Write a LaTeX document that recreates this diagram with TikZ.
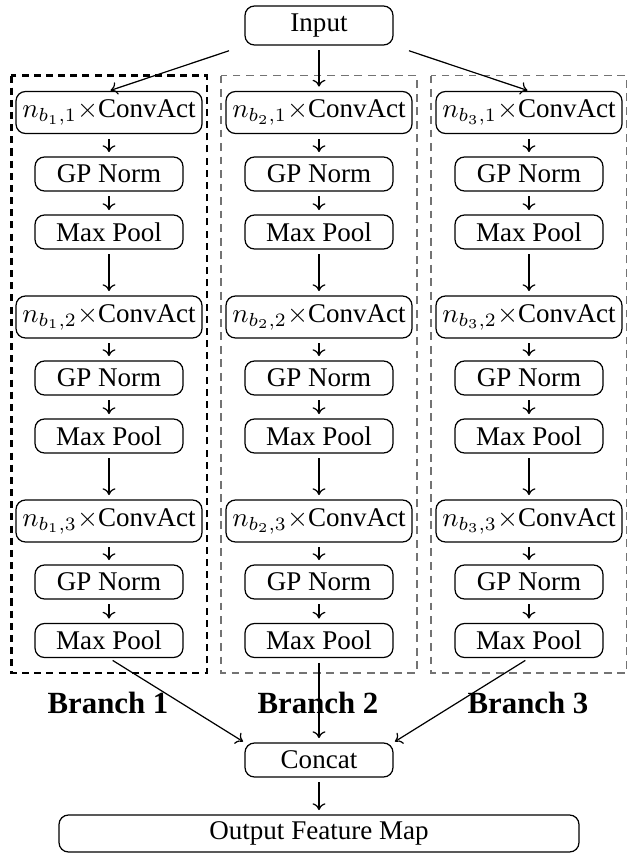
\documentclass[tikz,border=0pt]{standalone}
\usepackage{fontspec}
\setmainfont{Liberation Serif}
\usetikzlibrary{arrows.meta}
\def\pxu{0.37pt}
\tikzset{
  blk/.style={draw, rounded corners=3.5pt, inner sep=0pt, align=center, line width=0.45pt},
  convbox/.style={blk, minimum width={186*\pxu}, minimum height={42*\pxu}},
  smallbox/.style={blk, minimum width={148*\pxu}, minimum height={34*\pxu}},
  inbox/.style={blk, minimum width={148*\pxu}, minimum height={39*\pxu}},
  outbox/.style={blk, minimum width={520*\pxu}, minimum height={37*\pxu}},
  tip/.style={-{Computer Modern Rightarrow[length=2.5pt, width=4.8pt]}, line width=0.45pt},
  conn/.style={tip, shorten <=1.8pt, shorten >=1.6pt},
  branchA/.style={draw=black, line width=0.85pt, dash pattern=on 2.6pt off 1.9pt},
  branchB/.style={draw=black!55, line width=0.45pt, dash pattern=on 2.9pt off 2.1pt},
  blabel/.style={font=\fontsize{11.4}{13}\selectfont\bfseries}
}
\begin{document}
\begin{tikzpicture}[x=0.37pt, y=-0.37pt]
\useasboundingbox (0,0) rectangle (628,853);
% branch frames
\draw[branchA] (11.5,75.5) rectangle (207,673);
\draw[branchB] (221,75.5) rectangle (417,673);
\draw[branchB] (431,75.5) rectangle (626.5,673);

\node[inbox] (in) at (319,25.5) {Input};

\foreach \b/\x in {1/109, 2/319, 3/529} {
  \node[convbox] (c\b1) at (\x,112.5) {$n_{b_{\b},1}$$\times$ConvAct};
  \node[smallbox] (g\b1) at (\x,174) {GP Norm};
  \node[smallbox] (m\b1) at (\x,232) {Max Pool};
  \node[convbox] (c\b2) at (\x,317) {$n_{b_{\b},2}$$\times$ConvAct};
  \node[smallbox] (g\b2) at (\x,378) {GP Norm};
  \node[smallbox] (m\b2) at (\x,436) {Max Pool};
  \node[convbox] (c\b3) at (\x,521) {$n_{b_{\b},3}$$\times$ConvAct};
  \node[smallbox] (g\b3) at (\x,582) {GP Norm};
  \node[smallbox] (m\b3) at (\x,640.5) {Max Pool};
  \draw[conn] (c\b1) -- (g\b1);
  \draw[conn] (g\b1) -- (m\b1);
  \draw[conn] (m\b1) -- (c\b2);
  \draw[conn] (c\b2) -- (g\b2);
  \draw[conn] (g\b2) -- (m\b2);
  \draw[conn] (m\b2) -- (c\b3);
  \draw[conn] (c\b3) -- (g\b3);
  \draw[conn] (g\b3) -- (m\b3);
}

\node[blabel] (bl1) at (108,703) {Branch 1};
\node[blabel] (bl2) at (318,703) {Branch 2};
\node[blabel] (bl3) at (528,703) {Branch 3};

\node[smallbox] (cat) at (319,760) {Concat};
\node[outbox] (out) at (319,833.5) {Output Feature Map};

% input arrows
\draw[tip, shorten <=6pt, shorten >=0.6pt] (in.south west) -- (c11.north);
\draw[conn] (in) -- (c21);
\draw[tip, shorten <=6pt, shorten >=0.6pt] (in.south east) -- (c31.north);

% to concat
\draw[tip, shorten <=1.6pt, shorten >=0.6pt] (m13.south) -- (cat.north west);
\draw[conn] (m23) -- (cat);
\draw[tip, shorten <=1.6pt, shorten >=0.6pt] (m33.south) -- (cat.north east);
\draw[conn] (cat) -- (out);
\end{tikzpicture}
\end{document}
